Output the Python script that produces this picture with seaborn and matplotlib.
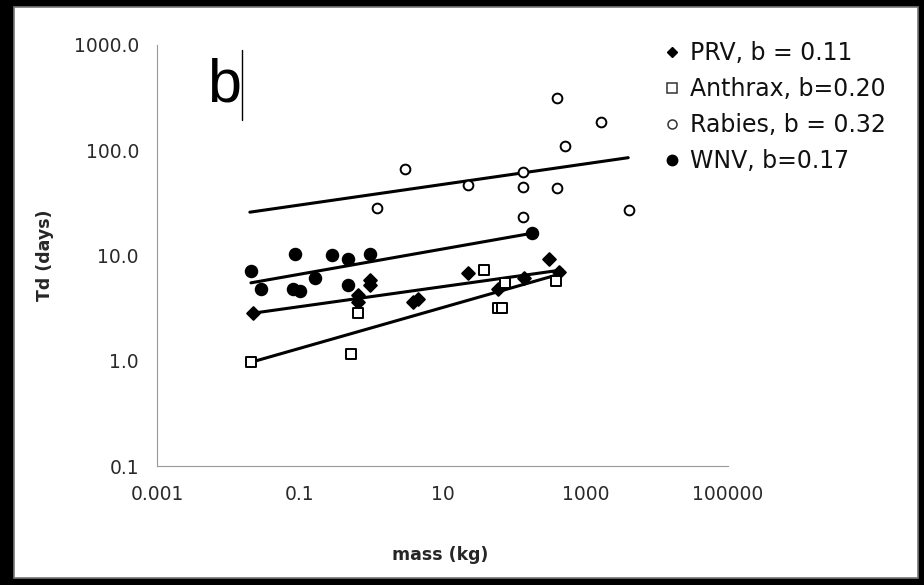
#!/usr/bin/env python3
"""
Doubling time (Td) versus host mass for four pathogens, log-log scatter with fitted lines
"""

import numpy as np
import pandas as pd
import matplotlib
matplotlib.use("Agg")
import matplotlib.pyplot as plt
from matplotlib.lines import Line2D
from matplotlib.patches import Rectangle
from matplotlib import font_manager
import seaborn as sns

# ---- data ----
prv_mass = [0.022, 0.65, 0.65, 0.98, 0.98, 3.8, 4.5, 23, 59, 140, 314, 432]
prv_td = [2.83, 4.2, 3.6, 5.8, 5.2, 3.6, 3.9, 6.8, 4.8, 6.1, 9.2, 6.9]

anthrax_mass = [0.021, 0.65, 0.53, 38.6, 74, 59, 69, 393]
anthrax_td = [0.97, 2.83, 1.16, 7.3, 5.5, 3.2, 3.2, 5.7]

rabies_mass = [407, 1660, 525, 3.0, 23, 136, 136, 407, 1.2, 136, 4100]
rabies_td = [313, 185, 109, 66, 47, 62, 45, 44, 28, 23, 27]

wnv_mass = [0.0207, 0.085, 0.28, 0.48, 0.98, 0.166, 0.0285, 0.08, 0.1, 0.48, 182]
wnv_td = [7.1, 10.3, 10.1, 9.2, 10.3, 6.1, 4.8, 4.8, 4.6, 5.2, 16.3]

# fitted trend lines (start / end points)
prv_fit_mass = [0.022, 477]
prv_fit_td = [2.83, 7.3]
anthrax_fit_mass = [0.021, 490]
anthrax_fit_td = [0.97, 6.8]
rabies_fit_mass = [0.02, 4000]
rabies_fit_td = [25.8, 85]
wnv_fit_mass = [0.0207, 182]
wnv_fit_td = [5.5, 16.3]

series_labels = ["PRV, b = 0.11", "Anthrax, b=0.20", "Rabies, b = 0.32", "WNV, b=0.17"]

x_ticks = [0.001, 0.1, 10, 1000, 100000]
x_tick_labels = ["0.001", "0.1", "10", "1000", "100000"]
y_ticks = [0.1, 1, 10, 100, 1000]
y_tick_labels = ["0.1", "1.0", "10.0", "100.0", "1000.0"]

sns.set_style("white")
plt.rcParams['font.family'] = ['DejaVu Sans']

installed = {f.name for f in font_manager.fontManager.ttflist}
letter_font = "Liberation Sans Narrow" if "Liberation Sans Narrow" in installed else "Liberation Sans"

fig = plt.figure(figsize=(9.24, 5.85), dpi=100, facecolor="black")
# white page with thin gray frame
fig.patches.append(Rectangle((14 / 924, 7 / 585), 904 / 924, 571 / 585,
                             transform=fig.transFigure, facecolor="white",
                             edgecolor="#777777", linewidth=1.2, zorder=-5))

ax = fig.add_axes([157 / 924, 1 - 466 / 585, (728 - 157) / 924, (466 - 45) / 585])
ax.set_facecolor("none")
ax.set_zorder(2)

# x, y, fit x, fit y, marker, face, size (pt)
styles = [
    (prv_mass, prv_td, prv_fit_mass, prv_fit_td, "D", "black", 6.5),
    (anthrax_mass, anthrax_td, anthrax_fit_mass, anthrax_fit_td, "s", "white", 7.0),
    (rabies_mass, rabies_td, rabies_fit_mass, rabies_fit_td, "o", "white", 7.0),
    (wnv_mass, wnv_td, wnv_fit_mass, wnv_fit_td, "o", "black", 8.3),
]

for (mx, ty, fx, fy, mk, fc, ms) in styles:
    df_pts = pd.DataFrame({"mass": mx, "td": ty})
    df_fit = pd.DataFrame({"mass": fx, "td": fy})
    sns.lineplot(data=df_fit, x="mass", y="td", color="black", linewidth=2.2,
                 ax=ax, legend=False, zorder=2)
    sns.scatterplot(data=df_pts, x="mass", y="td", marker=mk, s=ms ** 2,
                    facecolor=fc, edgecolor="black", linewidth=1.4,
                    ax=ax, legend=False, zorder=3)

ax.set_xscale("log")
ax.set_yscale("log")
ax.set_xlim(0.001, 100000)
ax.set_ylim(0.1, 1000)
ax.set_xticks(x_ticks)
ax.set_xticklabels(x_tick_labels)
ax.set_yticks(y_ticks)
ax.set_yticklabels(y_tick_labels)
ax.minorticks_off()
ax.tick_params(axis="both", which="major", direction="out", length=5,
               width=0.8, color="#999999", labelsize=13.5, labelcolor="#2a2a2a")
ax.tick_params(axis="x", pad=9)
ax.tick_params(axis="y", pad=8)

for side in ["top", "right"]:
    ax.spines[side].set_visible(False)
for side in ["left", "bottom"]:
    ax.spines[side].set_color("#999999")
    ax.spines[side].set_linewidth(0.8)

ax.set_xlabel("mass (kg)", fontsize=12.5, fontweight="bold")
ax.set_ylabel("Td (days)", fontsize=12.5, fontweight="bold")
ax.xaxis.set_label_coords(0.496, -0.19)
ax.yaxis.set_label_coords(-0.18, 0.5)

# legend
handles = [
    Line2D([], [], linestyle="none", marker="D", markersize=5.5,
           markerfacecolor="black", markeredgecolor="black"),
    Line2D([], [], linestyle="none", marker="s", markersize=7,
           markerfacecolor="white", markeredgecolor="#333333", markeredgewidth=1.1),
    Line2D([], [], linestyle="none", marker="o", markersize=6.5,
           markerfacecolor="white", markeredgecolor="#333333", markeredgewidth=1.1),
    Line2D([], [], linestyle="none", marker="o", markersize=7.5,
           markerfacecolor="black", markeredgecolor="black"),
]
leg = fig.legend(handles, series_labels, loc="upper left",
                 bbox_to_anchor=(655 / 924, 1 - 32 / 585), frameon=False,
                 fontsize=17, handlelength=0.6, handletextpad=0.5,
                 labelspacing=0.5, borderaxespad=0)
for t in leg.get_texts():
    t.set_color("#111111")

# panel letter with the text cursor
fig.text(207 / 924, 1 - 102 / 585, "b", fontsize=44, family=letter_font,
         color="black", ha="left", va="baseline")
fig.add_artist(Line2D([242 / 924, 242 / 924], [1 - 50 / 585, 1 - 120 / 585],
                      transform=fig.transFigure, color="black", linewidth=1))

plt.savefig("out.png", dpi=100, facecolor=fig.get_facecolor())
print("Saved out.png")
